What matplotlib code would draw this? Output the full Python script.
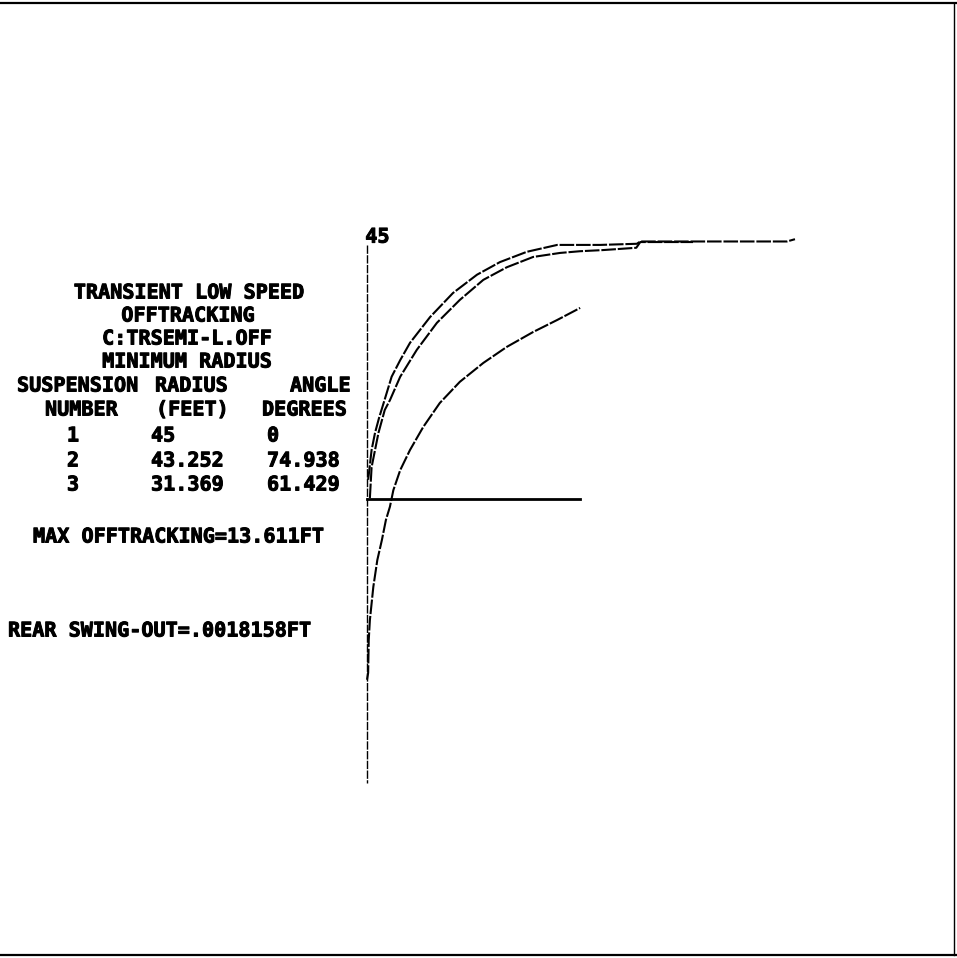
import matplotlib
matplotlib.use("Agg")
import matplotlib.pyplot as plt
from matplotlib.lines import Line2D
import matplotlib.patheffects as pe

# ---------------- data (feet) ----------------
# path of suspension 1 (outer)
x1 = [0.2, 0.4, 0.8, 1.4, 2.1, 2.9, 4.3, 5.8, 7.5, 11.0, 15.0, 19.2, 23.2, 27.9, 33.2, 40.7, 47.1, 47.7, 73.3, 74.7]
y1 = [3.4, 5.1, 8.6, 11.6, 14.2, 16.8, 21.4, 24.3, 27.3, 31.8, 36.0, 39.2, 41.4, 43.2, 44.4, 44.4, 44.6, 45.0, 45.0, 45.4]
# path of suspension 2
x2 = [0.5, 0.8, 1.4, 2.0, 3.1, 4.0, 5.8, 8.7, 12.2, 16.2, 20.3, 24.4, 29.0, 33.7, 37.2, 41.2, 47.0, 47.7, 56.9]
y2 = [0.2, 5.6, 8.6, 11.6, 15.6, 17.3, 21.4, 26.1, 30.8, 34.8, 38.3, 40.5, 42.3, 43.0, 43.3, 43.5, 43.9, 44.9, 44.9]
# path of suspension 3 (inner)
x3 = [0.0, 0.2, 0.3, 0.5, 1.1, 1.8, 2.6, 3.3, 4.0, 4.6, 5.8, 7.5, 9.8, 12.7, 16.2, 20.3, 24.4, 29.0, 33.2, 37.2]
y3 = [-31.5, -30.3, -24.6, -21.1, -15.3, -10.6, -7.1, -3.6, -1.3, 1.6, 5.1, 8.6, 12.6, 16.8, 20.5, 23.8, 26.6, 29.2, 31.3, 33.4]

axis_top = 44.4
axis_bottom = -49.5
base_end = 37.2
radius_label = "45"

title_lines = ["TRANSIENT LOW SPEED", "OFFTRACKING", "C:TRSEMI-L.OFF", "MINIMUM RADIUS"]
header1 = ["SUSPENSION", "RADIUS", "ANGLE"]
header2 = ["NUMBER", "(FEET)", "DEGREES"]
susp = ["1", "2", "3"]
radius = ["45", "43.252", "31.369"]
angle = ["0", "74.938", "61.429"]
max_off = "MAX OFFTRACKING=13.611FT"
swing = "REAR SWING-OUT=.0018158FT"

# ---------------- figure ----------------
W, H = 957, 958
fig = plt.figure(figsize=(W / 100, H / 100), dpi=100)
fig.patch.set_facecolor("white")
ax = fig.add_axes([0, 0, 1, 1])
ax.set_xlim(-64.06, 102.98)
ax.set_ylim(-80.07, 87.15)
ax.axis("off")

curve_style = dict(color="black", lw=1.5, linestyle=(0, (7, 0.9)), solid_capstyle="butt")
ax.plot(x1, y1, **curve_style)
ax.plot(x2, y2, **curve_style)
ax.plot(x3, y3, **curve_style)

ax.plot([0, 0], [axis_top, axis_bottom], color="black", lw=1.0, linestyle=(0, (6, 1)))
ax.plot([0, base_end], [0, 0], color="black", lw=2.0)

font = dict(family="DejaVu Sans Mono", weight="bold", color="black", fontsize=14.5,
            path_effects=[pe.withStroke(linewidth=0.7, foreground="black")])
ax.text(-0.3, 44.8, radius_label, ha="left", va="baseline", **font)


def ftext(px, py, s, ha="center"):
    fig.text(px / W, 1 - py / H, s, ha=ha, va="center", **font)


ys = [293, 316, 339, 362]
xs = [189, 188, 187, 187]
for s, x, y in zip(title_lines, xs, ys):
    ftext(x, y, s)

for s, x in zip(header1, [17, 155, 290]):
    ftext(x, 386, s, ha="left")
for s, x in zip(header2, [45, 156, 262]):
    ftext(x, 410, s, ha="left")

for i, y in enumerate([436, 461, 485]):
    ftext(73, y, susp[i])
    ftext(151, y, radius[i], ha="left")
    ftext(267, y, angle[i], ha="left")

ftext(33, 537, max_off, ha="left")
ftext(8, 631, swing, ha="left")

# frame
lw = 1.6
fig.add_artist(Line2D([0, 1], [1 - 3 / H, 1 - 3 / H], transform=fig.transFigure, color="black", lw=lw))
fig.add_artist(Line2D([0, 1], [1 - 955 / H, 1 - 955 / H], transform=fig.transFigure, color="black", lw=lw))
fig.add_artist(Line2D([954 / W, 954 / W], [1 - 3 / H, 1 - 955 / H], transform=fig.transFigure, color="black", lw=1.0))

fig.savefig("out.png", dpi=100, facecolor="white")
